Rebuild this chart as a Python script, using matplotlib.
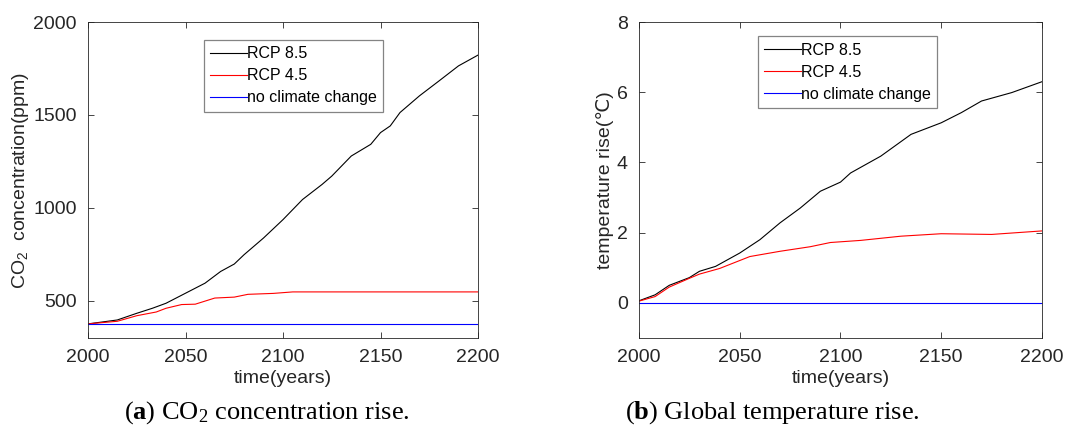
import matplotlib
matplotlib.use("Agg")
import matplotlib.pyplot as plt

plt.rcParams["font.family"] = ["Liberation Sans", "DejaVu Sans"]
plt.rcParams["mathtext.fontset"] = "custom"
plt.rcParams["mathtext.bf"] = "Liberation Serif:bold"
plt.rcParams["mathtext.default"] = "regular"

# CO2 concentration (ppm)
co2_years_85 = [2000, 2015, 2025, 2033, 2040, 2050, 2060, 2068, 2075, 2080, 2090, 2100,
                2110, 2120, 2125, 2135, 2145, 2150, 2155, 2160, 2170, 2180, 2190, 2200]
co2_rcp85 = [376, 397, 433, 460, 487, 541, 595, 658, 698, 748, 838, 937,
             1045, 1126, 1171, 1279, 1342, 1405, 1441, 1513, 1603, 1683, 1764, 1822]
co2_years_45 = [2000, 2015, 2025, 2035, 2040, 2048, 2055, 2065, 2075, 2082, 2095, 2105, 2150, 2200]
co2_rcp45 = [376, 390, 420, 440, 460, 480, 482, 515, 520, 535, 540, 548, 548, 548]
co2_years_none = [2000, 2200]
co2_none = [376, 376]

# temperature rise (deg C)
t_years_85 = [2000, 2008, 2015, 2025, 2030, 2038, 2050, 2060, 2070, 2080, 2090, 2100,
              2105, 2120, 2135, 2150, 2160, 2170, 2185, 2200]
t_rcp85 = [0.06, 0.23, 0.5, 0.72, 0.9, 1.04, 1.42, 1.8, 2.28, 2.7, 3.18, 3.44,
           3.7, 4.18, 4.8, 5.13, 5.42, 5.75, 5.99, 6.3]
t_years_45 = [2000, 2008, 2015, 2025, 2030, 2040, 2055, 2070, 2085, 2095, 2110, 2130, 2150, 2175, 2200]
t_rcp45 = [0.05, 0.18, 0.45, 0.7, 0.82, 0.98, 1.32, 1.47, 1.6, 1.72, 1.78, 1.9, 1.97, 1.95, 2.05]
t_years_none = [2000, 2200]
t_none = [0, 0]

labels = ["RCP 8.5", "RCP 4.5", "no climate change"]
colors = ["black", "red", "blue"]

fig = plt.figure(figsize=(10.79, 4.29), dpi=100)
ax1 = fig.add_axes([0.0816, 0.2121, 0.3614, 0.7366])
ax2 = fig.add_axes([0.5922, 0.2121, 0.3735, 0.7366])

panels = [
    (ax1, [(co2_years_85, co2_rcp85), (co2_years_45, co2_rcp45), (co2_years_none, co2_none)],
     (300, 2000), [500, 1000, 1500, 2000], "CO$_2$  concentration(ppm)", (0.297, 0.944)),
    (ax2, [(t_years_85, t_rcp85), (t_years_45, t_rcp45), (t_years_none, t_none)],
     (-1, 8), [0, 2, 4, 6, 8], "temperature rise(\u2103)", (0.295, 0.955)),
]

for ax, series, ylim, yticks, ylabel, legpos in panels:
    for (xs, ys), lab, c in zip(series, labels, colors):
        ax.plot(xs, ys, color=c, lw=0.8, label=lab)
    ax.set_xlim(2000, 2200)
    ax.set_ylim(*ylim)
    ax.set_xticks([2000, 2050, 2100, 2150, 2200])
    ax.set_yticks(yticks)
    ax.tick_params(direction="in", top=True, right=True, labelsize=14,
                   colors="#262626", length=4, width=0.6, pad=8)
    for sp in ax.spines.values():
        sp.set_color("#262626")
        sp.set_linewidth(0.6)
    ax.set_xlabel("time(years)", fontsize=14, color="#262626", labelpad=3)
    ax.set_ylabel(ylabel, fontsize=14, color="#262626", labelpad=2)
    leg = ax.legend(loc="upper left", bbox_to_anchor=legpos, fontsize=11.5, frameon=True,
                    fancybox=False, edgecolor="#666666", handlelength=2.3,
                    handletextpad=0.0, labelspacing=0.45, borderpad=0.4,
                    borderaxespad=0.0)
    leg.get_frame().set_linewidth(0.9)

fig.text(0.247, 0.025, r"($\mathbf{a}$) CO$_2$ concentration rise.", ha="center",
         fontsize=19, family="Liberation Serif")
fig.text(0.716, 0.025, r"($\mathbf{b}$) Global temperature rise.", ha="center",
         fontsize=19, family="Liberation Serif")

fig.savefig("out.png", dpi=100)
